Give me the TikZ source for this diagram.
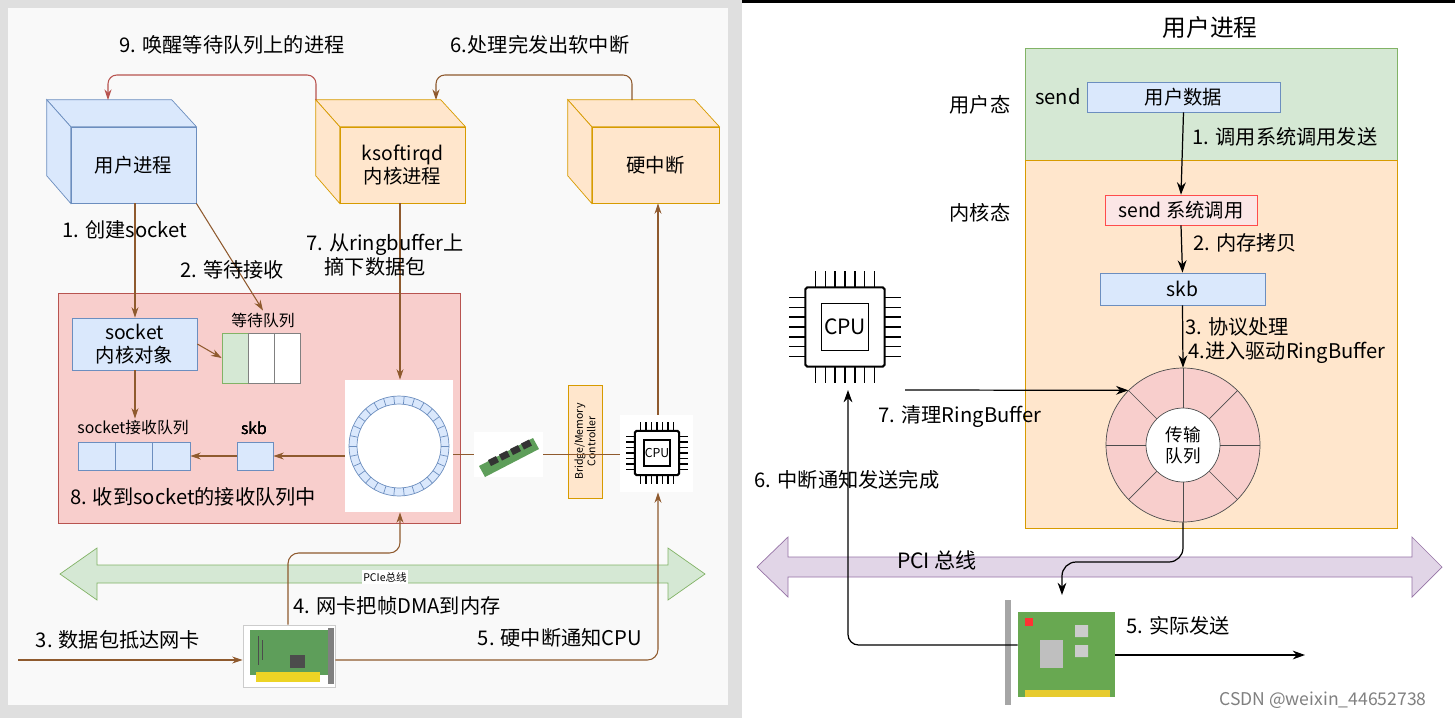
\documentclass[tikz,border=0pt]{standalone}
\usepackage{fontspec}
\setmainfont{Noto Sans CJK SC}
\usetikzlibrary{arrows.meta,positioning}
\definecolor{blueF}{HTML}{DAE8FC}
\definecolor{blueS}{HTML}{6C8EBF}
\definecolor{yelF}{HTML}{FFE6CC}
\definecolor{yelS}{HTML}{D79B00}
\definecolor{redF}{HTML}{F8CECC}
\definecolor{redS}{HTML}{B85450}
\definecolor{grnF}{HTML}{D5E8D4}
\definecolor{grnS}{HTML}{82B366}
\definecolor{purF}{HTML}{E1D5E7}
\definecolor{purS}{HTML}{9673A6}
\definecolor{brn}{HTML}{8F5A2E}
\definecolor{boardG}{HTML}{5E9E5A}

% box from corner (x1,y1) to corner (x2,y2), in pixels
\newcommand{\bx}[7]{\node[#6, minimum width={(#4-#2)*0.02cm}, minimum height={(#5-#3)*0.02cm}] (#1) at ({(#2+#4)/2},{(#3+#5)/2}) {#7};}
% 3d box: front face, top face and left face
\newcommand{\cube}[8]{%
  \bx{#1}{#2}{#3}{#4}{#5}{box, fill=#6, draw=#7}{#8}
  \filldraw[fill=#6, draw=#7] (#1.north west) -- ++(-24,-27) -- ++({#4-#2},0) -- (#1.north east) -- cycle;
  \filldraw[fill=#6, draw=#7] (#1.north west) -- ++(-24,-27) -- ++(0,{#5-#3}) -- (#1.south west) -- cycle;}
% cpu icon
\newcommand{\cpuchip}[5]{%
  \begin{scope}[shift={(#2,#3)}, x=#4*0.0002cm, y=-#4*0.0002cm]
    \draw[line width=1.2pt, rounded corners=1pt] (-32,-32) rectangle (32,32);
    \draw[line width=1pt] (-19,-19) rectangle (19,19);
    \node[font=\fontsize{#5}{#5}\selectfont] (#1) at (0,0) {CPU};
    \foreach \p in {-24,-16,...,24} {
      \draw[line width=0.8pt] (\p,-32) -- (\p,-45) (\p,32) -- (\p,45)
        (-32,\p) -- (-45,\p) (32,\p) -- (45,\p);
    }
  \end{scope}}

\tikzset{
  box/.style={draw, inner sep=0pt, align=center, font=\fontsize{11}{13}\selectfont},
  lbl/.style={inner sep=1pt, align=left, font=\fontsize{11.5}{13.5}\selectfont},
  arr/.style={-{Stealth[length=6pt,width=4pt]}, draw=brn, line width=0.6pt},
  karr/.style={-{Stealth[length=7pt,width=5pt]}, draw=black, line width=0.7pt},
}

\begin{document}
\begin{tikzpicture}[x=0.02cm, y=-0.02cm]
  \useasboundingbox (0,0) rectangle (1455,718);
  % backgrounds
  \fill[gray!25] (0,0) rectangle (742,718);
  \fill[gray!5] (8,8) rectangle (728,705);
  \fill[white] (742,0) rectangle (1455,718);
  \fill[black] (742,0) rectangle (1455,3);

  % ---------- left: receive ----------
  \cube{user}{71}{127}{196}{203}{blueF}{blueS}{用户进程}
  \cube{ksoft}{340}{127}{465}{203}{yelF}{yelS}{ksoftirqd\\内核进程}
  \cube{hardirq}{592}{127}{719}{203}{yelF}{yelS}{硬中断}

  \node[lbl] (l9) at (232,45) {9. 唤醒等待队列上的进程};
  \node[lbl] (l6) at (540,45) {6.处理完发出软中断};
  \coordinate (top) at (0,75);
  \coordinate (ks9) at (316,100);
  \coordinate (u9) at (108,100);
  \coordinate (hi6) at (632,100);
  \coordinate (ks6) at (436,100);
  \draw[arr, draw=redS, rounded corners=5pt] (ks9) -- (ks9 |- top) -| (u9);
  \draw[arr, rounded corners=5pt] (hi6) -- (hi6 |- top) -| (ks6);

  % kernel area
  \bx{kern}{58}{293}{460}{523}{draw=redS, fill=redF}{}
  \bx{sockobj}{72}{318}{197}{370}{box, draw=blueS, fill=blueF}{socket\\内核对象}
  \node[lbl, font=\fontsize{9}{11}\selectfont] (wqt) at (263,320) {等待队列};
  \bx{wq1}{222}{333}{248}{383}{draw=grnS, fill=grnF}{}
  \bx{wq2}{248}{333}{274}{383}{draw=gray, fill=white}{}
  \bx{wq3}{274}{333}{300}{383}{draw=gray, fill=white}{}
  \node[lbl, font=\fontsize{9}{11}\selectfont] (rqt) at (133,428) {socket接收队列};
  \foreach \i/\x in {1/78,2/115,3/152}
    \bx{rq\i}{\x}{442}{\x+38}{470}{draw=blueS, fill=blueF}{}
  \node[lbl, font=\fontsize{9}{11}\selectfont] (skbt) at (254,428) {skb};
  \bx{skbl}{237}{442}{273}{470}{draw=blueS, fill=blueF}{}
  \node[lbl] (l8) at (193,497) {8. 收到socket的接收队列中};

  % ring buffer
  \bx{ring}{345}{380}{453}{512}{draw=none, fill=white}{}
  \draw[draw=blueS, fill=blueF, even odd rule] (ring.center) circle (1cm) circle (0.84cm);
  \foreach \a in {0,12,...,348}
    \draw[blueS] (ring.center) ++(\a:42) -- ++(\a:8);

  % memory, bridge, cpu
  \bx{mem}{474}{432}{543}{477}{draw=none, fill=white}{}
  \fill[boardG] (479,466) -- (533,438) -- (539,449) -- (485,477) -- cycle;
  \foreach \i in {0,1,2,3}
    \fill[black!80] ({488+\i*11},{460-\i*5.5}) -- ++(8,-4) -- ++(3,6) -- ++(-8,4) -- cycle;
  \bx{bridge}{568}{385}{602}{498}{draw=yelS, fill=yelF}{}
  \node[rotate=90, align=center, font=\fontsize{6}{7}\selectfont] (bridget) at (bridge.center) {Bridge/Memory\\Controller};
  \bx{cpuL}{620}{415}{693}{492}{draw=none, fill=white}{}
  \cpuchip{cpuLt}{657}{453}{70}{7}

  % pcie bus
  \filldraw[fill=grnF, draw=grnS] (60,574) -- (97,548) -- (97,565) -- (668,565) -- (668,548) -- (705,574)
    -- (668,600) -- (668,583) -- (97,583) -- (97,600) -- cycle;
  \node[fill=white, inner sep=1pt, font=\fontsize{6}{7}\selectfont] (pcie) at (385,577) {PCIe总线};

  % nic
  \bx{nicL}{243}{625}{335}{687}{draw=gray!40, fill=white}{}
  \fill[boardG] (250,630) rectangle (328,675);
  \fill[yellow!70!brown] (256,672) rectangle (320,682);
  \fill[black!70] (290,655) rectangle (305,668);
  \fill[gray] (328,628) rectangle (334,684);
  \draw[black!70] (258,636) -- (258,665) (262,640) -- (262,660);

  % connectors
  \draw[arr] (user.south -| 135,0) -- (sockobj.north -| 135,0);
  \draw[arr] (user.south east) -- (wqt.north);
  \node[lbl] (l1) at (125,230) {1. 创建socket};
  \node[lbl] (l2) at (232,270) {2. 等待接收};
  \draw[arr] (ksoft.south -| 400,0) -- (ring.north -| 400,0);
  \node[lbl] (l7) at (385,255) {7. 从ringbuffer上\\\ \ \ \ 摘下数据包};
  \draw[arr] (sockobj.east) -- (wq1.west);
  \draw[arr] (sockobj.south -| 135,0) -- (rqt.north -| 135,0);
  \draw[arr] (ring.west |- skbl.east) -- (skbl.east);
  \draw[arr] (skbl.west) -- (rq3.east);
  \draw[brn, line width=0.6pt] (ring.east |- mem.west) -- (mem.west);
  \draw[brn, line width=0.6pt] (mem.east) -- (cpuL.west |- mem.east);
  \draw[arr] (cpuL.north -| 658,0) -- (hardirq.south -| 658,0);

  \coordinate (in3) at (18,660);
  \draw[arr] (in3) -- (nicL.west |- in3);
  \node[lbl] (l3) at (118,640) {3. 数据包抵达网卡};
  \draw[arr, rounded corners=6pt] (nicL.north -| 288,0) -- (288,553) -- (400,553) -- (ring.south -| 400,0);
  \node[lbl] (l4) at (397,606) {4. 网卡把帧DMA到内存};
  \draw[arr, rounded corners=6pt] (nicL.east |- in3) -- (658,660) -- (cpuL.south -| 658,0);
  \node[lbl] (l5) at (560,638) {5. 硬中断通知CPU};

  % ---------- right: send ----------
  \node[lbl, font=\fontsize{13.5}{15}\selectfont] (title) at (1210,27) {用户进程};
  \bx{ustate}{1025}{48}{1397}{160}{draw=grnS, fill=grnF}{}
  \bx{kstate}{1025}{160}{1397}{528}{draw=yelS, fill=yelF}{}
  \node[lbl] (ut) at (980,105) {用户态};
  \node[lbl] (kt) at (980,213) {内核态};
  \node[lbl] (sendt) at (1058,97) {send};
  \bx{udata}{1087}{82}{1280}{112}{box, draw=blueS, fill=blueF}{用户数据}
  \bx{scall}{1105}{195}{1257}{225}{box, draw=red!70, fill=redF!50}{send 系统调用}
  \bx{skbr}{1100}{273}{1265}{305}{box, draw=blueS, fill=blueF}{skb}

  \node[draw=black!70, fill=redF, circle, minimum size=3.08cm, inner sep=0pt] (txring) at (1183,445) {};
  \foreach \a in {0,45,...,315}
    \draw[black!70] (txring.center) ++(\a:37) -- ++(\a:40);
  \node[draw=black!70, fill=white, circle, minimum size=1.48cm, inner sep=0pt, align=center,
    font=\fontsize{10}{12}\selectfont] (txq) at (txring.center) {传输\\队列};

  \draw[karr] (udata.south) -- (scall.north);
  \node[lbl] (r1) at (1285,137) {1. 调用系统调用发送};
  \draw[karr] (scall.south) -- (skbr.north);
  \node[lbl] (r2) at (1245,243) {2. 内存拷贝};
  \draw[karr] (skbr.south) -- (txring.north);
  \node[lbl] (r3) at (1237,327) {3. 协议处理};
  \node[lbl] (r4) at (1287,353) {4.进入驱动RingBuffer};

  \cpuchip{cpuR}{845}{327}{125}{12}
  \coordinate (cpuRb) at (848,390);
  \coordinate (c7) at (905,390);
  \draw[karr] (c7) -- (txring.135);
  \node[lbl] (r7) at (960,417) {7. 清理RingBuffer};

  \filldraw[fill=purF, draw=purS] (757,567) -- (788,537) -- (788,557) -- (1412,557) -- (1412,537) -- (1442,567)
    -- (1412,597) -- (1412,577) -- (788,577) -- (788,597) -- cycle;
  \node[lbl, font=\fontsize{12}{14}\selectfont] (pci) at (937,560) {PCI 总线};

  % nic
  \bx{nicR}{1018}{612}{1115}{697}{draw=none, fill=boardG!90!lime}{}
  \fill[gray!70] (1005,600) rectangle (1011,705);
  \fill[gray!50] (1040,640) rectangle (1063,668);
  \fill[gray!40] (1075,625) rectangle (1088,637) (1075,645) rectangle (1088,657);
  \fill[red!80] (1025,618) rectangle (1033,626);
  \fill[yellow!60!brown] (1025,690) rectangle (1110,697);

  \coordinate (nicin) at (1062,595);
  \draw[karr, rounded corners=8pt] (txring.south) -- (1183,562) -- (1062,562) -- (nicin);
  \draw[karr, rounded corners=6pt] (nicR.west |- 0,645) -- (848,645) -- (cpuRb);
  \node[lbl] (r6) at (847,480) {6. 中断通知发送完成};
  \coordinate (out5) at (1305,655);
  \draw[karr] (nicR.east |- out5) -- (out5);
  \node[lbl] (r5) at (1178,626) {5. 实际发送};
  \node[lbl, text=gray, font=\fontsize{10}{12}\selectfont] (wm) at (1323,700) {CSDN @weixin\_44652738};
\end{tikzpicture}
\end{document}
